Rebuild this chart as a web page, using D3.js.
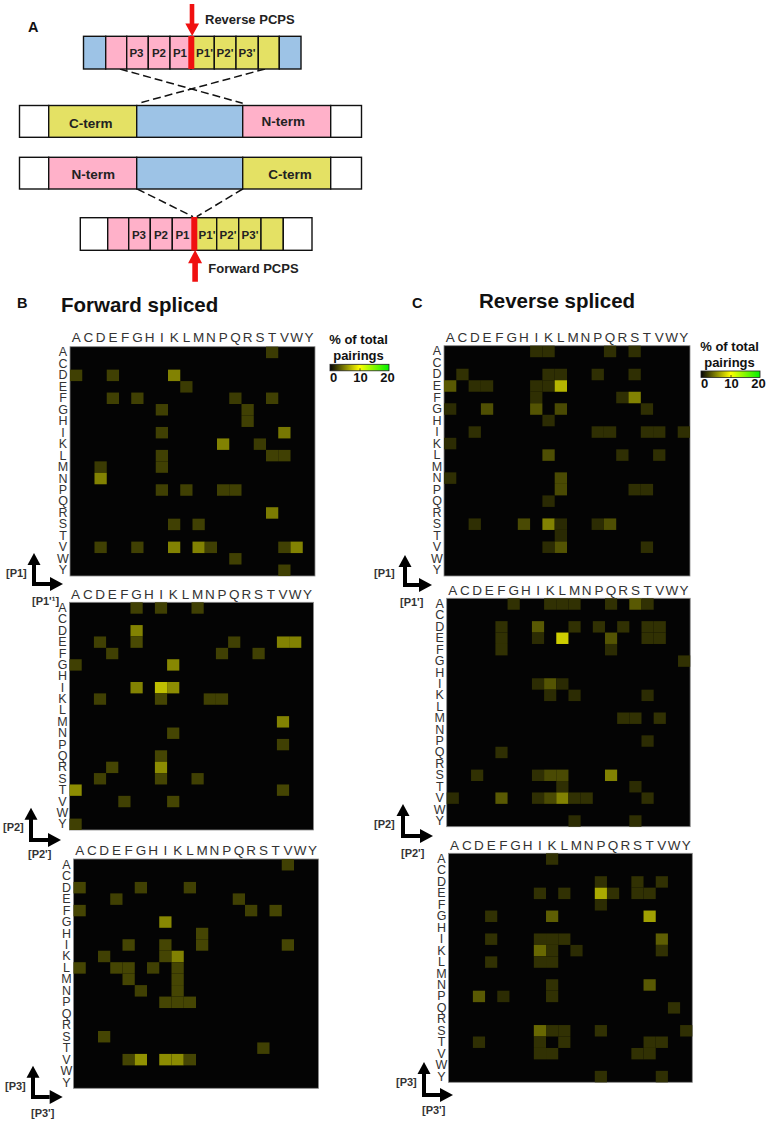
<!DOCTYPE html>
<html>
<head>
<meta charset="utf-8">
<script src="https://cdn.jsdelivr.net/npm/d3@7"></script>
<style>
  html, body { margin: 0; padding: 0; background: #fff; }
  svg { display: block; }
  text { font-family: "Liberation Sans", Arial, sans-serif; }
</style>
</head>
<body>
<script>
var residues = ["A","C","D","E","F","G","H","I","K","L","M","N","P","Q","R","S","T","V","W","Y"];

// [row residue, column residue, % of total pairings]
var forwardP1 = [
  ["A","T",2.2],
  ["D","A",2.4],["D","E",2.4],["D","K",5],
  ["E","L",2.2],
  ["F","E",2.4],["F","G",2.4],["F","Q",2.2],["F","T",2.4],
  ["G","I",2.4],["G","R",2.4],
  ["H","R",2.4],
  ["I","I",2.4],["I","V",4.6],
  ["K","P",5],["K","S",2.2],
  ["L","I",2.4],["L","T",2.4],["L","V",2.4],
  ["M","D",2.2],["M","I",2.4],
  ["N","D",5],
  ["P","I",2.4],["P","L",2.4],["P","P",2.4],["P","Q",2.4],
  ["R","T",4.8],
  ["S","K",2.4],["S","M",2.4],
  ["V","D",2.4],["V","G",2.4],["V","K",5],["V","M",5],["V","N",2.4],["V","V",2.4],["V","W",5],
  ["W","Q",2.4],
  ["Y","V",2.4]
];
var forwardP2 = [
  ["A","G",2.4],["A","I",2.4],["A","M",2.4],
  ["D","G",5],
  ["E","D",2.4],["E","G",2.8],["E","Q",2.4],["E","V",5],["E","W",5],
  ["F","E",2.4],["F","P",2.4],["F","S",2.4],
  ["G","A",2.4],["G","K",5.2],
  ["I","G",5],["I","I",7.4],["I","K",5.4],
  ["K","D",2.4],["K","I",2.6],["K","N",2.4],["K","P",2.4],
  ["M","V",5],
  ["N","K",2.6],
  ["P","V",2.4],
  ["Q","I",2.6],
  ["R","E",2.6],["R","I",5.4],
  ["S","D",2.4],["S","I",2.6],["S","M",2.4],
  ["T","A",5.4],["T","V",2.6],
  ["V","F",2.4],["V","K",2.6],
  ["Y","A",2.4]
];
var forwardP3 = [
  ["A","V",2.4],
  ["D","A",2.6],["D","G",2.4],["D","L",2.4],
  ["E","E",2.4],["E","Q",2.4],
  ["F","A",2.6],["F","R",2.4],["F","T",2.6],
  ["G","I",5.2],
  ["H","M",2.6],
  ["I","F",2.6],["I","I",2.6],["I","M",2.6],["I","V",2.6],
  ["K","D",2.4],["K","I",2.6],["K","K",5],
  ["L","A",2.6],["L","E",2.6],["L","F",2.6],["L","H",2.4],["L","K",2.6],
  ["M","F",2.6],["M","K",2.6],
  ["N","G",2.4],["N","K",2.6],
  ["P","I",2.6],["P","K",2.6],["P","L",2.6],
  ["S","D",2.6],
  ["T","S",2.4],
  ["V","F",2.6],["V","G",5.6],["V","I",5.4],["V","K",5.4],["V","L",2.6]
];
var reverseP1 = [
  ["A","I",1.7],["A","K",1.7],["A","Q",1.7],["A","S",1.7],
  ["D","C",1.8],["D","K",1.7],["D","L",1.7],["D","P",1.7],["D","S",1.7],
  ["E","A",3.4],["E","D",1.7],["E","E",1.7],["E","I",1.7],["E","K",1.7],["E","L",7],
  ["F","I",1.7],["F","R",1.7],["F","S",5],
  ["G","A",1.6],["G","E",3],["G","I",3.2],["G","L",2.8],["G","T",1.7],
  ["H","K",1.6],
  ["I","D",1.7],["I","P",1.7],["I","Q",1.7],["I","T",1.7],["I","V",1.7],["I","Y",1.7],
  ["K","A",1.6],
  ["L","K",3],["L","R",1.7],["L","V",1.7],
  ["N","A",1.7],["N","L",2.8],
  ["P","L",2.8],["P","S",1.7],["P","T",1.7],
  ["Q","K",1.5],
  ["S","D",1.7],["S","H",2.8],["S","K",5],["S","L",1.5],["S","P",1.6],["S","Q",3],
  ["T","L",1.5],
  ["V","K",1.6],["V","L",3.2],["V","T",1.7]
];
var reverseP2 = [
  ["A","G",1.8],["A","K",1.8],["A","L",1.8],["A","M",1.8],["A","Q",1.8],["A","S",3.4],["A","T",1.8],
  ["D","F",1.8],["D","I",3.4],["D","M",1.8],["D","P",1.8],["D","R",1.8],["D","T",1.8],["D","V",1.8],
  ["E","F",1.8],["E","I",1.6],["E","L",8],["E","Q",3.2],["E","T",1.8],["E","V",1.8],
  ["F","F",1.8],["F","Q",1.6],
  ["G","Y",1.8],
  ["I","I",1.6],["I","K",3.2],["I","L",1.5],
  ["K","K",1.6],["K","M",1.6],["K","T",1.6],
  ["M","R",1.8],["M","S",1.8],["M","V",1.8],
  ["P","T",1.6],
  ["Q","F",1.7],
  ["S","D",1.8],["S","I",1.7],["S","K",2.8],["S","L",2.8],["S","Q",5],
  ["T","L",1.7],["T","S",1.6],
  ["V","A",1.6],["V","F",3.4],["V","I",1.7],["V","K",2.8],["V","L",5],["V","M",1.8],["V","N",1.8],["V","T",1.7],
  ["Y","M",1.6],["Y","S",1.7]
];
var reverseP3 = [
  ["A","K",1.8],
  ["D","P",1.8],["D","S",1.8],["D","V",1.8],
  ["E","I",1.8],["E","L",1.8],["E","P",6.6],["E","Q",1.8],["E","S",1.8],["E","T",1.8],
  ["F","P",1.6],
  ["G","E",1.8],["G","K",3.6],["G","T",6.2],
  ["I","E",1.8],["I","I",1.8],["I","K",1.8],["I","L",1.8],["I","V",3.6],
  ["K","I",4],["K","K",1.8],["K","M",1.6],["K","V",1.8],
  ["L","E",1.8],["L","I",1.8],["L","K",1.8],
  ["N","K",1.8],["N","T",3.4],
  ["P","D",3.4],["P","F",1.6],["P","K",1.8],
  ["Q","W",1.8],
  ["S","I",4],["S","K",1.8],["S","L",1.8],["S","P",1.8],["S","Y",1.7],
  ["T","D",1.7],["T","I",1.8],["T","L",1.8],["T","T",1.8],["T","V",1.8],
  ["V","I",1.8],["V","K",1.8],["V","S",1.8],["V","T",1.8],
  ["Y","P",1.7],["Y","V",1.7]
];

var legendTicks = [0, 10, 20];

var svg = d3.select("body").append("svg")
  .attr("width", 767)
  .attr("height", 1122);

var color = d3.scaleLinear()
  .domain([0, 10, 20])
  .range(["#040404", "#ffff00", "#00f000"]);

var BLUE = "#9dc3e6", PINK = "#ffb1c9", YELLOW = "#e4e164", WHITE = "#fff";

// ---- heat maps ----
function heatmap(data, left, top, w, h, gap) {
  var x = d3.scaleBand().domain(residues).range([left, left + w]);
  var y = d3.scaleBand().domain(residues).range([top, top + h]);

  svg.append("rect")
    .attr("x", left)
    .attr("y", top)
    .attr("width", w)
    .attr("height", h)
    .attr("fill", "#040404")
    .attr("stroke", "#8a8a8a")
    .attr("stroke-width", 0.8);

  svg.append("g").selectAll("rect")
    .data(data)
    .enter().append("rect")
    .attr("x", function(d) {return x(d[1]);})
    .attr("y", function(d) {return y(d[0]);})
    .attr("width", x.bandwidth())
    .attr("height", y.bandwidth())
    .attr("fill", function(d) {return color(d[2]);});

  var xAxis = svg.append("g")
    .attr("transform", "translate(0," + (top - gap) + ")")
    .call(d3.axisTop(x).tickSize(0).tickPadding(0));
  var yAxis = svg.append("g")
    .attr("transform", "translate(" + (left - 7) + ",0)")
    .call(d3.axisLeft(y).tickSize(0).tickPadding(0));

  xAxis.select(".domain").remove();
  yAxis.select(".domain").remove();
  xAxis.selectAll("text")
    .attr("font-size", 13.5)
    .attr("fill", "#333")
    .style("font-family", '"Liberation Sans", Arial, sans-serif');
  yAxis.selectAll("text")
    .attr("text-anchor", "middle")
    .attr("font-size", 12.5)
    .attr("fill", "#333")
    .style("font-family", '"Liberation Sans", Arial, sans-serif');
}

heatmap(forwardP1, 70, 346.7, 245, 229.3, 5);
heatmap(forwardP2, 69.5, 602.3, 244, 227.7, 3);
heatmap(forwardP3, 73.5, 859, 245, 229.3, 3.7);
heatmap(reverseP1, 444, 345.7, 246, 230.3, 3.4);
heatmap(reverseP2, 446.7, 598.3, 243.5, 228.4, 3.3);
heatmap(reverseP3, 448.5, 853.3, 243.8, 229, 3);

// ---- colour legends ----
var defs = svg.append("defs");
var grad = defs.append("linearGradient").attr("id", "legendGrad");
grad.selectAll("stop")
  .data(color.domain())
  .enter().append("stop")
  .attr("offset", function(d) {return d / 20;})
  .attr("stop-color", function(d) {return color(d);});

function legend(left, top) {
  svg.append("rect")
    .attr("x", left)
    .attr("y", top)
    .attr("width", 59)
    .attr("height", 6.5)
    .attr("fill", "url(#legendGrad)")
    .attr("stroke", "#222")
    .attr("stroke-width", 0.8);

  var s = d3.scaleLinear().domain([0, 20]).range([left + 3, left + 57]);
  var a = svg.append("g")
    .attr("transform", "translate(0," + (top + 6.5) + ")")
    .call(d3.axisBottom(s).tickValues(legendTicks).tickSize(0).tickPadding(1.5));
  a.select(".domain").remove();
  a.selectAll("text")
    .attr("font-size", 13)
    .attr("font-weight", "bold")
    .attr("fill", "#111")
    .style("font-family", '"Liberation Sans", Arial, sans-serif');

  svg.append("line")
    .attr("x1", s(10))
    .attr("x2", s(10))
    .attr("y1", top + 4)
    .attr("y2", top + 6.5)
    .attr("stroke", "#222")
    .attr("stroke-width", 0.8);

  label("% of total", left + 28.5, top - 20.5, 13, "middle");
  label("pairings", left + 28.5, top - 4, 13, "middle");
}

function label(t, x, y, size, anchor, fill) {
  svg.append("text")
    .attr("x", x)
    .attr("y", y)
    .attr("font-size", size)
    .attr("font-weight", "bold")
    .attr("text-anchor", anchor || "start")
    .attr("fill", fill || "#111")
    .text(t);
}

legend(330, 364.3);
legend(701, 371);

// ---- panel labels and titles ----
label("A", 28, 32, 14.5);
label("B", 17, 308, 14.5);
label("C", 412, 308, 14.5);
label("Forward spliced", 61, 312, 20.5);
label("Reverse spliced", 479, 308, 20.5);

// ---- axis corner arrows ----
function cornerArrow(vx, tipY, cornerY, tipX) {
  var shaftW = 4;
  svg.append("path")
    .attr("d", "M" + vx + "," + (tipY + 11) + "V" + (cornerY + 2) + "H" + (tipX - 13))
    .attr("fill", "none")
    .attr("stroke", "#000")
    .attr("stroke-width", shaftW);
  svg.append("path")
    .attr("d", "M" + vx + "," + tipY + "l-6.5,12h13z")
    .attr("fill", "#000");
  svg.append("path")
    .attr("d", "M" + tipX + "," + (cornerY + 2) + "l-13,-7v14z")
    .attr("fill", "#000");
}

cornerArrow(34, 553, 582, 63);
cornerArrow(31, 807.7, 838, 61);
cornerArrow(33, 1065.7, 1095, 62.7);
cornerArrow(405, 555, 583, 432);
cornerArrow(403, 804, 834, 433);
cornerArrow(424, 1062, 1093, 453);

label("[P1]", 6, 577, 11, "start", "#333");
label("[P1'\u00b9]", 32, 605, 11, "start", "#333");
label("[P2]", 3, 831, 11, "start", "#333");
label("[P2']", 28, 858, 11, "start", "#333");
label("[P3]", 5, 1090, 11, "start", "#333");
label("[P3']", 31, 1117, 11, "start", "#333");
label("[P1]", 374, 577, 11, "start", "#333");
label("[P1']", 400, 606, 11, "start", "#333");
label("[P2]", 374, 828, 11, "start", "#333");
label("[P2']", 401, 857, 11, "start", "#333");
label("[P3]", 396, 1086, 11, "start", "#333");
label("[P3']", 422, 1114, 11, "start", "#333");

// ---- schematic, panel A ----
function bar(edges, fills, top, bottom) {
  svg.append("g").selectAll("rect")
    .data(fills)
    .enter().append("rect")
    .attr("x", function(d, i) {return edges[i];})
    .attr("y", top)
    .attr("width", function(d, i) {return edges[i + 1] - edges[i];})
    .attr("height", bottom - top)
    .attr("fill", function(d) {return d;})
    .attr("stroke", "#111")
    .attr("stroke-width", 1.4);
}

function dashed(x1, y1, x2, y2) {
  svg.append("line")
    .attr("x1", x1)
    .attr("y1", y1)
    .attr("x2", x2)
    .attr("y2", y2)
    .attr("stroke", "#111")
    .attr("stroke-width", 1.5)
    .attr("stroke-dasharray", "8,4");
}

var reverseEdges = [83.5, 105.7, 126.7, 148.3, 170, 191, 214.3, 236, 258.3, 279.3, 301];
var reverseFills = [BLUE, PINK, PINK, PINK, PINK, YELLOW, YELLOW, YELLOW, YELLOW, BLUE];
var forwardEdges = [80.3, 107.7, 128.7, 150.3, 172.3, 193.3, 216.7, 238.7, 261, 283.3, 312];
var forwardFills = [WHITE, PINK, PINK, PINK, PINK, YELLOW, YELLOW, YELLOW, YELLOW, WHITE];
var middleEdges = [19.5, 48.7, 136.7, 242.7, 330.7, 361.5];

dashed(120, 69, 242.7, 103.3);
dashed(265, 69, 138.3, 103.3);
dashed(137.3, 189, 193, 216.7);
dashed(242.7, 189, 196.7, 216.7);

bar(reverseEdges, reverseFills, 36.3, 69);
bar(middleEdges, [WHITE, YELLOW, BLUE, PINK, WHITE], 105.5, 137.3);
bar(middleEdges, [WHITE, PINK, BLUE, YELLOW, WHITE], 157.3, 189);
bar(forwardEdges, forwardFills, 217.7, 250.3);

// red cut bars
svg.append("rect").attr("x", 188.3).attr("y", 36).attr("width", 6).attr("height", 33).attr("fill", "#f01010");
svg.append("rect").attr("x", 191.3).attr("y", 217).attr("width", 6).attr("height", 33.5).attr("fill", "#f01010");

// red arrows
svg.append("path")
  .attr("d", "M189.7,4h4.6v19.5h4.8l-6.9,12.5l-6.9,-12.5h4.4z")
  .attr("fill", "#f01010");
svg.append("path")
  .attr("d", "M192.3,281.7h5.6v-18.5h4.2l-7,-13.2l-7,13.2h4.2z")
  .attr("fill", "#f01010");

label("Reverse PCPS", 205, 24, 13, "start", "#222");
label("Forward PCPS", 208.3, 273, 13, "start", "#222");
label("C-term", 90.7, 127.5, 13.5, "middle", "#222");
label("N-term", 283.3, 126, 13.5, "middle", "#222");
label("N-term", 93.3, 179, 13.5, "middle", "#222");
label("C-term", 290, 178.7, 13.5, "middle", "#222");

var siteLabels = ["P3", "P2", "P1", "P1'", "P2'", "P3'"];
var reverseLabelX = [136.5, 159, 180, 204.5, 225, 247];
var forwardLabelX = [139, 161, 182.5, 207, 228, 250];
siteLabels.forEach(function(t, i) {
  label(t, reverseLabelX[i], 57, 11.5, "middle", "#222");
  label(t, forwardLabelX[i], 239, 11.5, "middle", "#222");
});
</script>
</body>
</html>
